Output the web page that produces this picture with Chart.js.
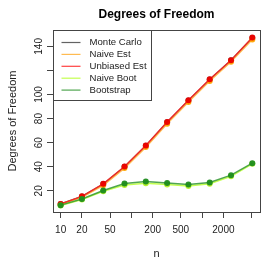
<!DOCTYPE html>
<html>
<head>
<meta charset="utf-8">
<script src="https://cdn.jsdelivr.net/npm/chart.js@4/dist/chart.umd.min.js"></script>
<style>
  html, body { margin: 0; padding: 0; background: #fff; }
  #wrap { width: 266px; height: 266px; }
</style>
</head>
<body>
<div id="wrap"><canvas id="dof-chart"></canvas></div>
<script>
// Degrees of freedom vs sample size
const sampleSizes = [10, 20, 40, 80, 160, 320, 640, 1280, 2560, 5120];
const monteCarlo  = [9.0, 15.3, 25.6, 40.0, 57.4, 77.0, 95.0, 112.5, 128.4, 147.0];
const naiveEst    = [8.6, 14.6, 24.6, 38.9, 56.3, 75.8, 93.8, 111.2, 127.2, 145.7];
const unbiasedEst = [9.0, 15.4, 25.8, 40.2, 57.6, 77.2, 95.2, 112.7, 128.5, 147.3];
const naiveBoot   = [7.8, 12.8, 19.6, 24.8, 26.3, 25.2, 24.1, 25.9, 32.0, 42.4];
const bootstrap   = [8.1, 13.2, 20.3, 26.1, 27.8, 26.4, 25.3, 27.0, 33.0, 43.0];

const xTicks = [10, 20, 50, 100, 200, 500, 1000, 2000, 5000];
const xTickLabels = ['10', '20', '50', '', '200', '500', '', '2000', ''];
const yTicks = [20, 40, 60, 80, 100, 120, 140];
const yTickLabels = ['20', '40', '60', '80', '100', '', '140'];

const FONT = '"Liberation Sans", Arial, Helvetica, sans-serif';
const AXIS = '#444';

function series(label, values, color, pointColor, order) {
    return {
        label: label,
        data: sampleSizes.map((n, i) => ({ x: n, y: values[i] })),
        borderColor: color,
        backgroundColor: pointColor,
        pointBackgroundColor: pointColor,
        pointBorderColor: pointColor,
        borderWidth: 1.5,
        pointRadius: 3,
        pointBorderWidth: 0,
        tension: 0,
        order: order
    };
}

// box, title, rotated y labels and legend drawn R-style
const rStyle = {
    id: 'rStyle',
    afterDraw(chart) {
        const ctx = chart.ctx;
        const a = chart.chartArea;
        const yScale = chart.scales.y;
        ctx.save();

        ctx.strokeStyle = AXIS;
        ctx.lineWidth = 1;
        ctx.strokeRect(Math.round(a.left) + 0.5, Math.round(a.top) + 0.5,
            Math.round(a.right - a.left), Math.round(a.bottom - a.top));

        ctx.fillStyle = '#000';
        ctx.font = 'bold 12px ' + FONT;
        ctx.textAlign = 'center';
        ctx.textBaseline = 'middle';
        ctx.fillText('Degrees of Freedom', (a.left + a.right) / 2, 15);

        ctx.font = '10px ' + FONT;
        ctx.fillStyle = '#222';
        yTicks.forEach((v, i) => {
            if (!yTickLabels[i]) return;
            ctx.save();
            ctx.translate(39, yScale.getPixelForValue(v));
            ctx.rotate(-Math.PI / 2);
            ctx.fillText(yTickLabels[i], 0, 0);
            ctx.restore();
        });

        // legend box in the top-left corner of the plot
        const bx = Math.round(a.left) + 0.5, by = Math.round(a.top) + 0.5;
        const bw = 98, bh = 70;
        ctx.fillStyle = '#fff';
        ctx.fillRect(bx, by, bw, bh);
        ctx.strokeStyle = AXIS;
        ctx.strokeRect(bx, by, bw, bh);
        ctx.textAlign = 'left';
        ctx.font = '9.6px ' + FONT;
        chart.data.datasets.forEach((ds, i) => {
            const y = by + 12 + i * 11.9;
            ctx.strokeStyle = ds.borderColor;
            ctx.lineWidth = 1.2;
            ctx.beginPath();
            ctx.moveTo(bx + 8, y);
            ctx.lineTo(bx + 27, y);
            ctx.stroke();
            ctx.fillStyle = '#222';
            ctx.fillText(ds.label, bx + 36, y);
        });
        ctx.restore();
    }
};

const chart = new Chart(document.getElementById('dof-chart'), {
    type: 'line',
    data: {
        datasets: [
            series('Monte Carlo', monteCarlo, 'rgba(60, 60, 60, 0.8)', 'rgba(60, 60, 60, 0.8)', 5),
            series('Naive Est', naiveEst, 'rgba(255, 175, 50, 0.85)', 'rgba(255, 165, 0, 0.95)', 4),
            series('Unbiased Est', unbiasedEst, 'rgba(255, 30, 30, 0.85)', 'rgba(235, 0, 0, 0.95)', 3),
            series('Naive Boot', naiveBoot, 'rgba(190, 255, 60, 0.9)', 'rgba(180, 240, 40, 0.95)', 2),
            series('Bootstrap', bootstrap, 'rgba(50, 150, 50, 0.85)', 'rgba(30, 140, 30, 0.95)', 1)
        ]
    },
    options: {
        responsive: true,
        maintainAspectRatio: false,
        animation: false,
        layout: { padding: { top: 30, right: 6, left: 0, bottom: 0 } },
        plugins: {
            legend: { display: false },
            title: { display: false },
            tooltip: { enabled: false }
        },
        scales: {
            x: {
                type: 'logarithmic',
                min: 7.8,
                max: 6577,
                afterBuildTicks: s => { s.ticks = xTicks.map(v => ({ value: v })); },
                afterFit: s => { s.height = 54; },
                border: { display: false },
                grid: { drawOnChartArea: false, drawTicks: true, tickLength: 6, color: AXIS },
                ticks: {
                    autoSkip: false,
                    maxRotation: 0,
                    padding: 6,
                    color: '#222',
                    font: { family: FONT, size: 10 },
                    callback: (v, i) => xTickLabels[i]
                },
                title: {
                    display: true,
                    text: 'n',
                    color: '#222',
                    font: { family: FONT, size: 11 },
                    padding: { top: 0, bottom: 5.5 }
                }
            },
            y: {
                min: 2.4,
                max: 153.6,
                afterBuildTicks: s => { s.ticks = yTicks.map(v => ({ value: v })); },
                afterFit: s => { s.width = 53; },
                border: { display: false },
                grid: { drawOnChartArea: false, drawTicks: true, tickLength: 6, color: AXIS },
                ticks: { display: false },
                title: {
                    display: true,
                    text: 'Degrees of Freedom',
                    color: '#222',
                    font: { family: FONT, size: 11 },
                    padding: { top: 6.5, bottom: 0 }
                }
            }
        }
    },
    plugins: [rStyle]
});
</script>
</body>
</html>
